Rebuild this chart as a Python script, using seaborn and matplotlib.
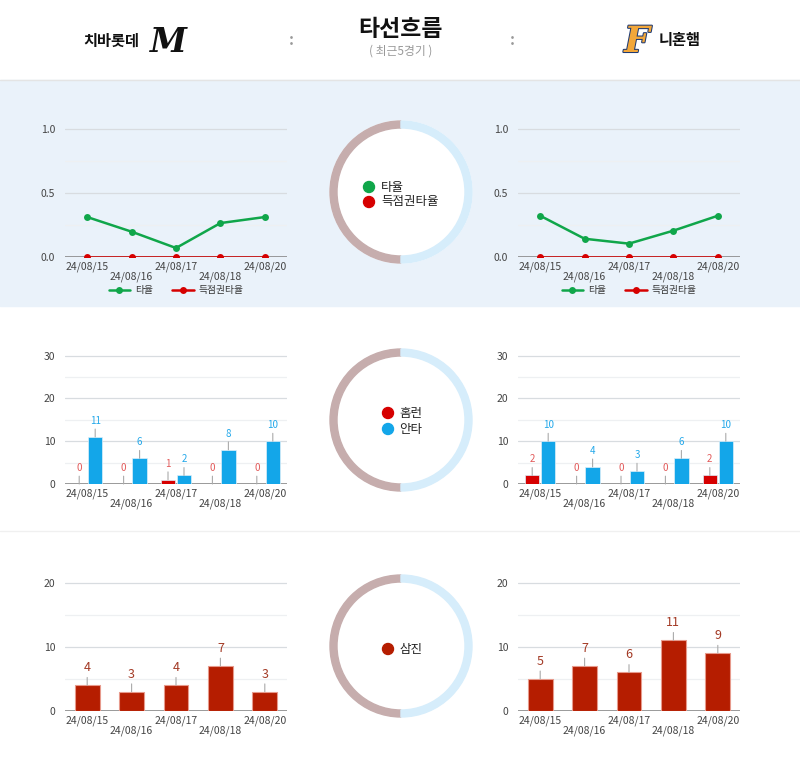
import numpy as np
import pandas as pd
import matplotlib.pyplot as plt
from matplotlib.patches import Rectangle, Wedge, Circle
import matplotlib.patheffects as pe
import seaborn as sns

# data (last 5 games)
dates = ['24/08/15', '24/08/16', '24/08/17', '24/08/18', '24/08/20']
lotte_avg = [0.311, 0.197, 0.070, 0.264, 0.311]
lotte_risp = [0, 0, 0, 0, 0]
ham_avg = [0.321, 0.142, 0.104, 0.205, 0.321]
ham_risp = [0, 0, 0, 0, 0]
lotte_hr = [0, 0, 1, 0, 0]
lotte_hits = [11, 6, 2, 8, 10]
ham_hr = [2, 0, 0, 0, 2]
ham_hits = [10, 4, 3, 6, 10]
lotte_so = [4, 3, 4, 7, 3]
ham_so = [5, 7, 6, 11, 9]

GREEN, RED, BLUE, SO_RED = '#10A64A', '#D60000', '#13A6E9', '#B51D00'

sns.set_style('white')
plt.rcParams['font.family'] = ['Noto Sans CJK KR', 'DejaVu Sans']

W, H = 800, 758
fig = plt.figure(figsize=(8, 7.58), dpi=100)


def px_axes(x0, y0, x1, y1):
    return fig.add_axes([x0 / W, 1 - y1 / H, (x1 - x0) / W, (y1 - y0) / H])


# background layer in pixel coordinates
bg = fig.add_axes([0, 0, 1, 1], zorder=-5)
bg.set_xlim(0, W)
bg.set_ylim(H, 0)
bg.axis('off')
bg.add_patch(Rectangle((0, 80), W, 226, color='#EAF2FA'))
bg.plot([0, W], [79.5, 79.5], color='#E4E4E4', lw=1)
bg.plot([0, W], [530.5, 530.5], color='#F0F0F0', lw=1)

# header
bg.text(111, 41, '치바롯데', ha='center', va='center', fontsize=11, fontweight='bold', color='#111')
bg.text(168, 43, 'M', ha='center', va='center', fontsize=24, fontweight='bold', style='italic',
        family='DejaVu Serif', color='#111')
bg.text(400, 29, '타선흐름', ha='center', va='center', fontsize=16.5, fontweight='bold', color='#111')
bg.text(401, 51, '( 최근5경기 )', ha='center', va='center', fontsize=8.5, color='#999')
bg.text(291, 40, ':', ha='center', va='center', fontsize=11, fontweight='bold', color='#999')
bg.text(512, 40, ':', ha='center', va='center', fontsize=11, fontweight='bold', color='#999')
bg.text(637, 42, 'F', ha='center', va='center', fontsize=26, fontweight='bold', style='italic',
        family='DejaVu Serif', color='#F2A73A',
        path_effects=[pe.withStroke(linewidth=1.5, foreground='#1F3B73')])
bg.text(680, 40, '니혼햄', ha='center', va='center', fontsize=11, fontweight='bold', color='#111')


def donut(cx, cy, items, dot_x, text_x):
    bg.add_patch(Circle((cx, cy), 71, color='white'))
    bg.add_patch(Wedge((cx, cy), 71, 90, 270, width=7, color='#C6ADAD'))
    bg.add_patch(Wedge((cx, cy), 71, -90, 90, width=7, color='#D6EDFB'))
    for y, col, lab in items:
        bg.add_patch(Circle((dot_x, y), 5.5, color=col))
        bg.text(text_x, y, lab, ha='left', va='center', fontsize=9, color='#222')


donut(401, 192, [(187, GREEN, '타율'), (202, RED, '득점권타율')], 369, 381)
donut(401, 420, [(413, RED, '홈런'), (429, BLUE, '안타')], 388, 399)
donut(401, 646, [(649, SO_RED, '삼진')], 388, 399)


def style_axes(ax, ymax, major, fmt):
    ax.set_xlim(-0.5, 4.5)
    ax.set_ylim(0, ymax * 1.004)
    ax.set_yticks(np.arange(0, ymax + 1e-9, major))
    ax.set_yticks(np.arange(major / 2, ymax, major), minor=True)
    ax.set_yticklabels([fmt.format(v) for v in np.arange(0, ymax + 1e-9, major)])
    ax.grid(which='major', axis='y', color='#D8DCE0', lw=0.9)
    ax.grid(which='minor', axis='y', color='#EEF0F2', lw=0.9)
    ax.grid(axis='x', visible=False)
    ax.set_axisbelow(True)
    ax.tick_params(which='both', length=0)
    ax.tick_params(axis='y', labelsize=7.5, colors='#444', pad=7)
    ax.set_xticks(range(5))
    ax.set_xticklabels([d if i % 2 == 0 else '\n' + d for i, d in enumerate(dates)],
                       fontsize=7.5, color='#444', linespacing=1.05)
    ax.tick_params(axis='x', pad=3)
    for s in ax.spines.values():
        s.set_visible(False)
    ax.axhline(0, color='#8A8A8A', lw=1.2, zorder=1)
    ax.set_xlabel('')
    ax.set_ylabel('')
    ax.patch.set_alpha(0)


def line_chart(ax, avg, risp):
    df = pd.DataFrame({'date': dates * 2, 'value': avg + risp,
                       'series': ['타율'] * 5 + ['득점권타율'] * 5})
    sns.lineplot(data=df, x='date', y='value', hue='series', sort=False,
                 palette={'타율': GREEN, '득점권타율': RED}, marker='o',
                 markersize=5, markeredgewidth=0, linewidth=1.8, ax=ax, zorder=3)
    style_axes(ax, 1.0, 0.5, '{:.1f}')
    ax.legend(loc='upper center', bbox_to_anchor=(0.5, -0.15), ncol=2, frameon=False,
              fontsize=7, handlelength=2.2, columnspacing=2.0, handletextpad=0.5,
              labelcolor='#333')


def annotate_bars(ax, colors, size):
    for cont, col in zip(ax.containers, colors):
        for bar in cont:
            x = bar.get_x() + bar.get_width() / 2
            h = bar.get_height()
            ax.annotate(f'{int(round(h))}', xy=(x, h), xytext=(0, 8), textcoords='offset points',
                        ha='center', va='bottom', fontsize=size, color=col,
                        arrowprops=dict(arrowstyle='-', color='#AAAAAA', lw=0.8,
                                        shrinkA=0, shrinkB=0))


def hr_chart(ax, hr, hits):
    df = pd.DataFrame({'date': dates * 2, 'value': hr + hits,
                       'series': ['홈런'] * 5 + ['안타'] * 5})
    sns.barplot(data=df, x='date', y='value', hue='series', hue_order=['홈런', '안타'],
                palette={'홈런': RED, '안타': BLUE}, saturation=1, width=0.72, gap=0.1,
                edgecolor='#DDEFFA', linewidth=0.5, legend=False, ax=ax, zorder=2)
    style_axes(ax, 30, 10, '{:.0f}')
    annotate_bars(ax, ['#E25A5A', '#23A8EA'], 7)


def so_chart(ax, so):
    df = pd.DataFrame({'date': dates, 'value': so})
    sns.barplot(data=df, x='date', y='value', color=SO_RED, saturation=1, width=0.56,
                edgecolor='#E79A8C', linewidth=0.8, ax=ax, zorder=2)
    style_axes(ax, 20, 10, '{:.0f}')
    annotate_bars(ax, ['#A33A25'], 9)


line_chart(px_axes(65, 128, 287, 257), lotte_avg, lotte_risp)
line_chart(px_axes(518, 128, 740, 257), ham_avg, ham_risp)
hr_chart(px_axes(65, 355, 287, 484), lotte_hr, lotte_hits)
hr_chart(px_axes(518, 355, 740, 484), ham_hr, ham_hits)
so_chart(px_axes(65, 582, 287, 711), lotte_so)
so_chart(px_axes(518, 582, 740, 711), ham_so)

fig.savefig('out.png', dpi=100)
